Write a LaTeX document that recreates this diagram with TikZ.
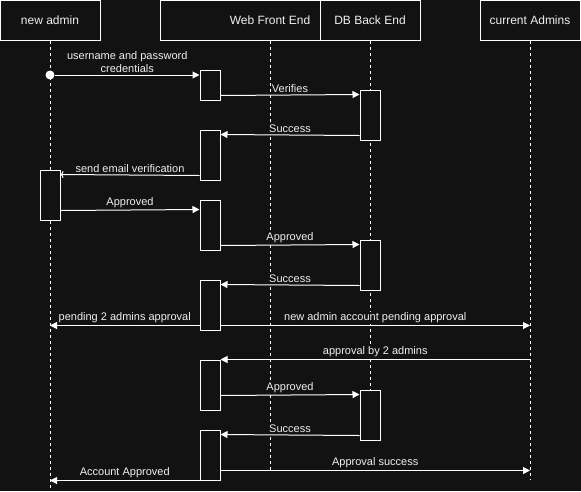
\documentclass[tikz,border=0pt]{standalone}
\usepackage{fontspec}
\setmainfont{Liberation Sans}
\usepackage{tikz}
\usetikzlibrary{arrows, arrows.meta, positioning}
\definecolor{bgdark}{HTML}{121212}
\definecolor{txtgrey}{HTML}{F0F0F0}
\tikzstyle{actor} = [rectangle, minimum width=100pt, minimum height=40pt, inner sep=0pt, draw=white, fill=bgdark, text=txtgrey, font=\fontsize{12}{14}\selectfont]
\tikzstyle{bar} = [rectangle, minimum width=20pt, inner sep=0pt, draw=white, fill=bgdark]

\begin{document}
\begin{tikzpicture}[x=1pt, y=-1pt, line width=1pt]
            \tikzstyle{lifeline} = [draw=white, dash pattern=on 3pt off 3pt]
            \tikzstyle{msg} = [draw=white, -{Triangle[length=7pt, width=7pt]}]
            \tikzstyle{reply} = [draw=white, -{To[length=3pt, width=7pt]}]
            \tikzstyle{lbl} = [midway, above=1pt, inner sep=1pt, fill=bgdark, text=txtgrey, font=\fontsize{11}{13}\selectfont]
            \tikzstyle{dot} = [circle, minimum size=9pt, inner sep=0pt, fill=white]

            \fill[bgdark] (0,0) rectangle (581,491);
            \useasboundingbox (0,0) rectangle (581,491);

            \node[actor] (newAdmin) at (50,20) {new admin};
            \node[actor, minimum width=220pt] (webFront) at (270,20) {Web Front End};
            \node[actor] (dbBack) at (370,20) {DB Back End};
            \node[actor] (curAdmins) at (530,20) {current Admins};

            \coordinate (newAdminEnd) at (50,488);
            \coordinate (webFrontEnd) at (270,470);
            \coordinate (dbBackEnd) at (370,400);
            \coordinate (curAdminsEnd) at (530,480);

            \draw[lifeline] (newAdmin) -- (newAdminEnd);
            \draw[lifeline] (webFront.south) -- (webFrontEnd);
            \draw[lifeline] (dbBack) -- (dbBackEnd);
            \draw[lifeline] (curAdmins) -- (curAdminsEnd);

            \node[bar, minimum height=30pt] (web1) at (210,85) {};
            \node[bar, minimum height=50pt] (web2) at (210,155) {};
            \node[bar, minimum height=50pt] (web3) at (210,225) {};
            \node[bar, minimum height=50pt] (web4) at (210,305) {};
            \node[bar, minimum height=50pt] (web5) at (210,385) {};
            \node[bar, minimum height=50pt] (web6) at (210,455) {};

            \node[bar, minimum height=50pt] (db1) at (370,115) {};
            \node[bar, minimum height=50pt] (db2) at (370,265) {};
            \node[bar, minimum height=50pt] (db3) at (370,415) {};

            \node[bar, minimum height=50pt] (admin1) at (50,195) {};

            \node[dot] (start) at (50,75) {};

            \draw[msg] (start) -- (web1.west |- start) node[lbl, align=center, fill=none] {username and password\\credentials};
            \draw[msg] ([yshift=5pt]web1.south east) -- ([yshift=-5pt]db1.north west) node[lbl] {Verifies};
            \draw[msg] ([yshift=5pt]db1.south west) -- ([yshift=-5pt]web2.north east) node[lbl] {Success};
            \draw[reply] ([yshift=5pt]web2.south west) -- ([yshift=-5pt]admin1.north east) node[lbl] {send email verification};
            \draw[msg] ([yshift=10pt]admin1.south east) -- ([yshift=-10pt]web3.north west) node[lbl] {Approved};
            \draw[msg] ([yshift=5pt]web3.south east) -- ([yshift=-5pt]db2.north west) node[lbl] {Approved};
            \draw[msg] ([yshift=5pt]db2.south west) -- ([yshift=-5pt]web4.north east) node[lbl] {Success};
            \draw[msg] ([yshift=5pt]web4.south west) coordinate (pending) -- (pending -| newAdmin) node[lbl] {pending 2 admins approval};
            \draw[msg] ([yshift=5pt]web4.south east) coordinate (notify) -- (notify -| curAdmins) node[lbl] {new admin account pending approval};
            \draw[msg] (web5.north east -| curAdmins) -- (web5.north east) node[lbl] {approval by 2 admins};
            \draw[msg] ([yshift=15pt]web5.south east) -- ([yshift=-5pt]db3.north west) node[lbl] {Approved};
            \draw[msg] ([yshift=5pt]db3.south west) -- ([yshift=-5pt]web6.north east) node[lbl] {Success};
            \draw[msg] ([yshift=10pt]web6.south east) coordinate (done) -- (done -| curAdmins) node[lbl] {Approval success};
            \draw[msg] (web6.south west) -- (web6.south west -| newAdmin) node[lbl] {Account Approved};

\end{tikzpicture}
\end{document}
